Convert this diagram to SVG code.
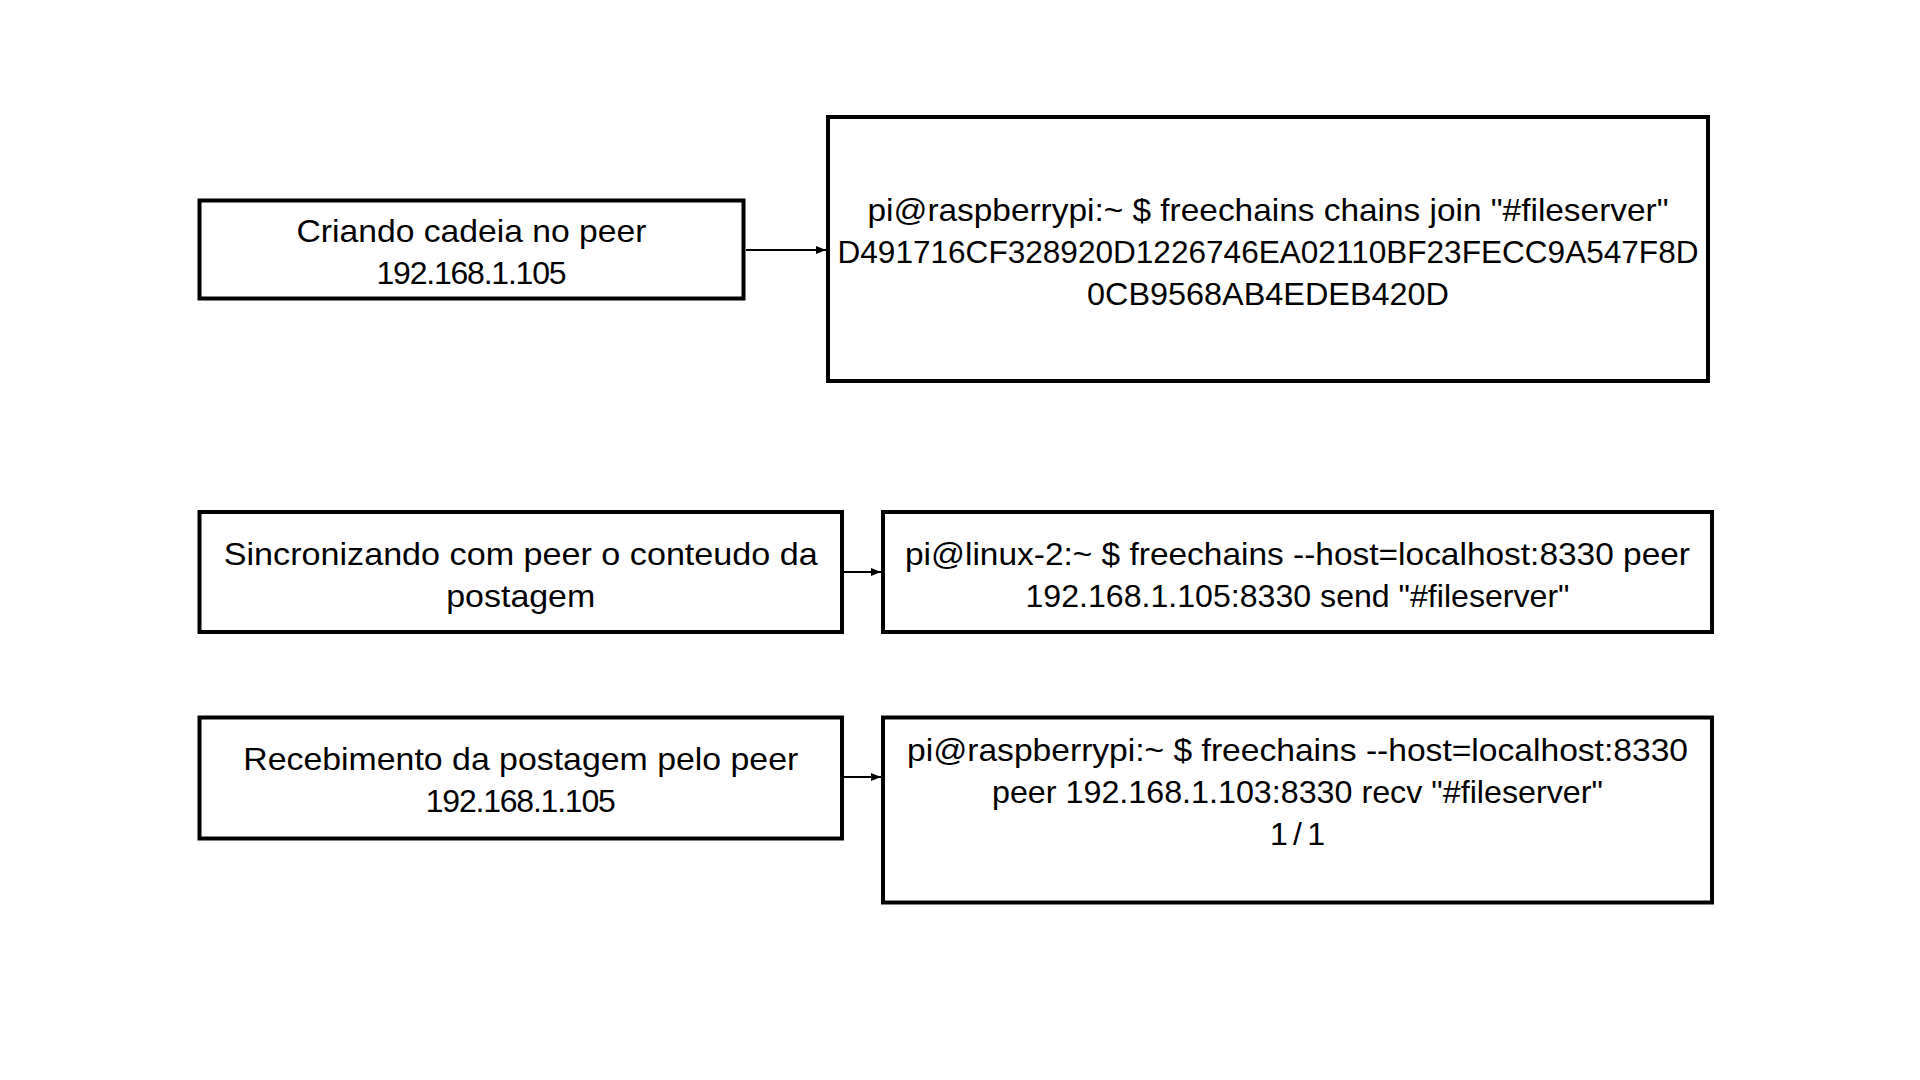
<svg xmlns="http://www.w3.org/2000/svg" width="1920" height="1080" viewBox="0 0 1920 1080">
  <style>
    .box { fill: #ffffff; stroke: #000000; stroke-width: 4; }
    .lbl { font-family: "Liberation Sans", Arial, sans-serif; font-size: 32px; fill: #000000; text-anchor: middle; }
    .conn { stroke: #000000; stroke-width: 2; fill: none; }
  </style>
  <defs>
    <marker id="arrow" markerWidth="10" markerHeight="8" refX="10" refY="4" orient="auto" markerUnits="userSpaceOnUse">
      <path d="M0,0 L10,4 L0,8 Z" fill="#000000"/>
    </marker>
  </defs>
  <rect width="1920" height="1080" fill="#ffffff"/>

  <g id="connectors">
    <line class="conn" x1="746" y1="250" x2="826" y2="250" marker-end="url(#arrow)"/>
    <line class="conn" x1="844" y1="572" x2="881" y2="572" marker-end="url(#arrow)"/>
    <line class="conn" x1="844" y1="777" x2="881" y2="777" marker-end="url(#arrow)"/>
  </g>

  <g id="node-criando">
    <rect class="box" x="199.5" y="200.5" width="544" height="98"/>
    <text class="lbl" x="471.5" y="242" textLength="350" lengthAdjust="spacingAndGlyphs">Criando cadeia no peer</text>
    <text class="lbl" x="471.5" y="284" textLength="190" lengthAdjust="spacing">192.168.1.105</text>
  </g>

  <g id="node-join">
    <rect class="box" x="828" y="117" width="880" height="264"/>
    <text class="lbl" x="1268" y="221" textLength="801" lengthAdjust="spacingAndGlyphs">pi@raspberrypi:~ $ freechains chains join "#fileserver"</text>
    <text class="lbl" x="1268" y="263" textLength="861" lengthAdjust="spacingAndGlyphs">D491716CF328920D1226746EA02110BF23FECC9A547F8D</text>
    <text class="lbl" x="1268" y="305" textLength="362" lengthAdjust="spacingAndGlyphs">0CB9568AB4EDEB420D</text>
  </g>

  <g id="node-sincronizando">
    <rect class="box" x="199.5" y="512" width="642.5" height="120"/>
    <text class="lbl" x="520.75" y="565" textLength="594" lengthAdjust="spacingAndGlyphs">Sincronizando com peer o conteudo da</text>
    <text class="lbl" x="520.75" y="607" textLength="149" lengthAdjust="spacingAndGlyphs">postagem</text>
  </g>

  <g id="node-send">
    <rect class="box" x="883" y="512" width="829" height="120"/>
    <text class="lbl" x="1297.5" y="565" textLength="785" lengthAdjust="spacingAndGlyphs">pi@linux-2:~ $ freechains --host=localhost:8330 peer</text>
    <text class="lbl" x="1297.5" y="607" textLength="544" lengthAdjust="spacingAndGlyphs">192.168.1.105:8330 send "#fileserver"</text>
  </g>

  <g id="node-recebimento">
    <rect class="box" x="199.5" y="717.5" width="642.5" height="121"/>
    <text class="lbl" x="520.75" y="770" textLength="555" lengthAdjust="spacingAndGlyphs">Recebimento da postagem pelo peer</text>
    <text class="lbl" x="520.75" y="812" textLength="190" lengthAdjust="spacing">192.168.1.105</text>
  </g>

  <g id="node-recv">
    <rect class="box" x="883" y="717.5" width="829" height="185"/>
    <text class="lbl" x="1297.5" y="761" textLength="781" lengthAdjust="spacingAndGlyphs">pi@raspberrypi:~ $ freechains --host=localhost:8330</text>
    <text class="lbl" x="1297.5" y="803" textLength="611" lengthAdjust="spacingAndGlyphs">peer 192.168.1.103:8330 recv "#fileserver"</text>
    <text class="lbl" x="1297.5" y="845" textLength="55" lengthAdjust="spacing">1 / 1</text>
  </g>
</svg>
